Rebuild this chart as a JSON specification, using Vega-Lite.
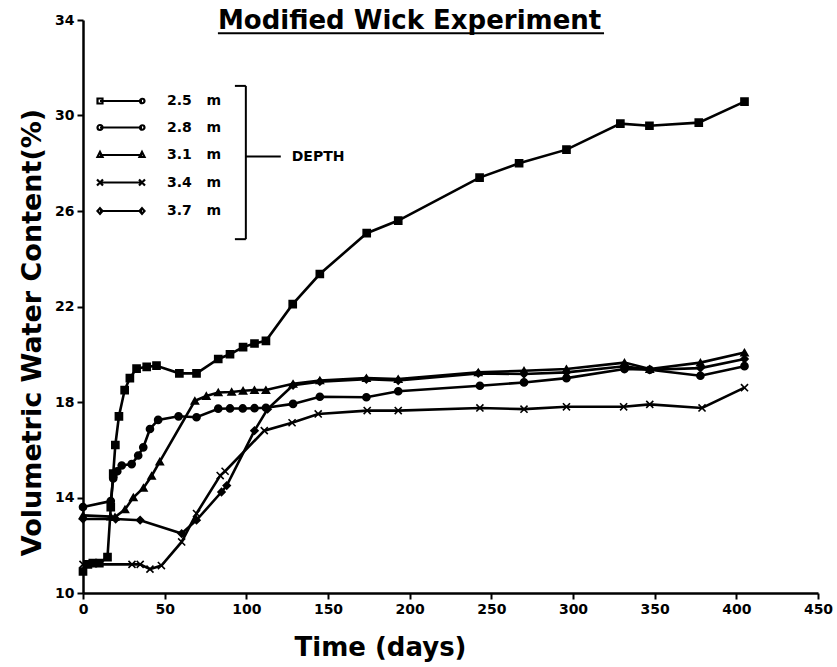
{
  "$schema": "https://vega.github.io/schema/vega-lite/v6.json",
  "width": 735,
  "height": 573,
  "autosize": {"type": "none"},
  "padding": {"left": 83, "top": 20, "right": 19, "bottom": 74},
  "background": "white",
  "config": {"view": {"stroke": null}, "font": "DejaVu Sans"},
  "data": {
    "values": [
      {"depth": "2.5 m", "day": 0, "wc": 10.9},
      {"depth": "2.5 m", "day": 3, "wc": 11.2},
      {"depth": "2.5 m", "day": 6, "wc": 11.25},
      {"depth": "2.5 m", "day": 10, "wc": 11.25},
      {"depth": "2.5 m", "day": 15, "wc": 11.5},
      {"depth": "2.5 m", "day": 17, "wc": 13.6},
      {"depth": "2.5 m", "day": 18.5, "wc": 15.0},
      {"depth": "2.5 m", "day": 19.8, "wc": 16.2},
      {"depth": "2.5 m", "day": 22, "wc": 17.4},
      {"depth": "2.5 m", "day": 25.5, "wc": 18.5},
      {"depth": "2.5 m", "day": 28.7, "wc": 19.0},
      {"depth": "2.5 m", "day": 32.8, "wc": 19.4},
      {"depth": "2.5 m", "day": 39, "wc": 19.47},
      {"depth": "2.5 m", "day": 45, "wc": 19.52},
      {"depth": "2.5 m", "day": 59, "wc": 19.2},
      {"depth": "2.5 m", "day": 69.5, "wc": 19.2},
      {"depth": "2.5 m", "day": 82.8, "wc": 19.8},
      {"depth": "2.5 m", "day": 90, "wc": 20.0},
      {"depth": "2.5 m", "day": 98, "wc": 20.3},
      {"depth": "2.5 m", "day": 105, "wc": 20.45},
      {"depth": "2.5 m", "day": 112, "wc": 20.56},
      {"depth": "2.5 m", "day": 128.4, "wc": 22.1},
      {"depth": "2.5 m", "day": 145, "wc": 23.36},
      {"depth": "2.5 m", "day": 173.7, "wc": 25.07},
      {"depth": "2.5 m", "day": 193, "wc": 25.6},
      {"depth": "2.5 m", "day": 242.8, "wc": 27.4},
      {"depth": "2.5 m", "day": 267, "wc": 28.0},
      {"depth": "2.5 m", "day": 296, "wc": 28.57},
      {"depth": "2.5 m", "day": 329, "wc": 29.66},
      {"depth": "2.5 m", "day": 346.8, "wc": 29.57},
      {"depth": "2.5 m", "day": 377, "wc": 29.7},
      {"depth": "2.5 m", "day": 405, "wc": 30.58},

      {"depth": "2.8 m", "day": 0, "wc": 13.6},
      {"depth": "2.8 m", "day": 17, "wc": 13.85},
      {"depth": "2.8 m", "day": 18.5, "wc": 14.8},
      {"depth": "2.8 m", "day": 21, "wc": 15.1},
      {"depth": "2.8 m", "day": 23.7, "wc": 15.34},
      {"depth": "2.8 m", "day": 29.8, "wc": 15.4},
      {"depth": "2.8 m", "day": 33.8, "wc": 15.76},
      {"depth": "2.8 m", "day": 36.9, "wc": 16.1},
      {"depth": "2.8 m", "day": 41, "wc": 16.87},
      {"depth": "2.8 m", "day": 46, "wc": 17.25},
      {"depth": "2.8 m", "day": 58.5, "wc": 17.4},
      {"depth": "2.8 m", "day": 69.5, "wc": 17.36},
      {"depth": "2.8 m", "day": 82.8, "wc": 17.72},
      {"depth": "2.8 m", "day": 90, "wc": 17.73},
      {"depth": "2.8 m", "day": 97.8, "wc": 17.73},
      {"depth": "2.8 m", "day": 105, "wc": 17.74},
      {"depth": "2.8 m", "day": 112, "wc": 17.76},
      {"depth": "2.8 m", "day": 128.6, "wc": 17.92},
      {"depth": "2.8 m", "day": 145, "wc": 18.22},
      {"depth": "2.8 m", "day": 173.5, "wc": 18.2},
      {"depth": "2.8 m", "day": 193, "wc": 18.45},
      {"depth": "2.8 m", "day": 243, "wc": 18.68},
      {"depth": "2.8 m", "day": 270, "wc": 18.82},
      {"depth": "2.8 m", "day": 296, "wc": 19.0},
      {"depth": "2.8 m", "day": 331.5, "wc": 19.38},
      {"depth": "2.8 m", "day": 347, "wc": 19.35},
      {"depth": "2.8 m", "day": 378, "wc": 19.1},
      {"depth": "2.8 m", "day": 405, "wc": 19.5},

      {"depth": "3.1 m", "day": 0, "wc": 13.25},
      {"depth": "3.1 m", "day": 17, "wc": 13.2},
      {"depth": "3.1 m", "day": 19.6, "wc": 13.18},
      {"depth": "3.1 m", "day": 25.7, "wc": 13.5},
      {"depth": "3.1 m", "day": 30.8, "wc": 14.0},
      {"depth": "3.1 m", "day": 37, "wc": 14.4},
      {"depth": "3.1 m", "day": 42, "wc": 14.9},
      {"depth": "3.1 m", "day": 47, "wc": 15.5},
      {"depth": "3.1 m", "day": 68.5, "wc": 18.05},
      {"depth": "3.1 m", "day": 75.5, "wc": 18.25},
      {"depth": "3.1 m", "day": 82.8, "wc": 18.4},
      {"depth": "3.1 m", "day": 91, "wc": 18.42},
      {"depth": "3.1 m", "day": 98, "wc": 18.47},
      {"depth": "3.1 m", "day": 105, "wc": 18.5},
      {"depth": "3.1 m", "day": 112, "wc": 18.5},
      {"depth": "3.1 m", "day": 128.6, "wc": 18.76},
      {"depth": "3.1 m", "day": 145, "wc": 18.9},
      {"depth": "3.1 m", "day": 173.5, "wc": 19.0},
      {"depth": "3.1 m", "day": 193, "wc": 18.96},
      {"depth": "3.1 m", "day": 242, "wc": 19.24},
      {"depth": "3.1 m", "day": 270, "wc": 19.31},
      {"depth": "3.1 m", "day": 296, "wc": 19.38},
      {"depth": "3.1 m", "day": 331.5, "wc": 19.65},
      {"depth": "3.1 m", "day": 347, "wc": 19.38},
      {"depth": "3.1 m", "day": 378, "wc": 19.65},
      {"depth": "3.1 m", "day": 405, "wc": 20.07},

      {"depth": "3.4 m", "day": 0, "wc": 11.2},
      {"depth": "3.4 m", "day": 30, "wc": 11.2},
      {"depth": "3.4 m", "day": 35, "wc": 11.2},
      {"depth": "3.4 m", "day": 41, "wc": 11.0},
      {"depth": "3.4 m", "day": 48, "wc": 11.15},
      {"depth": "3.4 m", "day": 60.4, "wc": 12.14},
      {"depth": "3.4 m", "day": 69.5, "wc": 13.33},
      {"depth": "3.4 m", "day": 84, "wc": 14.92},
      {"depth": "3.4 m", "day": 87, "wc": 15.1},
      {"depth": "3.4 m", "day": 111, "wc": 16.8},
      {"depth": "3.4 m", "day": 128, "wc": 17.13},
      {"depth": "3.4 m", "day": 144, "wc": 17.5},
      {"depth": "3.4 m", "day": 174, "wc": 17.64},
      {"depth": "3.4 m", "day": 193, "wc": 17.64},
      {"depth": "3.4 m", "day": 243, "wc": 17.75},
      {"depth": "3.4 m", "day": 270, "wc": 17.7},
      {"depth": "3.4 m", "day": 296, "wc": 17.8},
      {"depth": "3.4 m", "day": 331, "wc": 17.8},
      {"depth": "3.4 m", "day": 347, "wc": 17.9},
      {"depth": "3.4 m", "day": 379, "wc": 17.75},
      {"depth": "3.4 m", "day": 405, "wc": 18.6},

      {"depth": "3.7 m", "day": 0, "wc": 13.1},
      {"depth": "3.7 m", "day": 20, "wc": 13.1},
      {"depth": "3.7 m", "day": 35, "wc": 13.05},
      {"depth": "3.7 m", "day": 60.4, "wc": 12.49},
      {"depth": "3.7 m", "day": 69.5, "wc": 13.05},
      {"depth": "3.7 m", "day": 84.8, "wc": 14.23},
      {"depth": "3.7 m", "day": 88, "wc": 14.5},
      {"depth": "3.7 m", "day": 105, "wc": 16.8},
      {"depth": "3.7 m", "day": 113, "wc": 17.7},
      {"depth": "3.7 m", "day": 128.6, "wc": 18.7},
      {"depth": "3.7 m", "day": 145, "wc": 18.85},
      {"depth": "3.7 m", "day": 173.5, "wc": 18.95},
      {"depth": "3.7 m", "day": 193, "wc": 18.9},
      {"depth": "3.7 m", "day": 242, "wc": 19.2},
      {"depth": "3.7 m", "day": 270, "wc": 19.17},
      {"depth": "3.7 m", "day": 296, "wc": 19.24},
      {"depth": "3.7 m", "day": 331.5, "wc": 19.5},
      {"depth": "3.7 m", "day": 347, "wc": 19.35},
      {"depth": "3.7 m", "day": 378, "wc": 19.42},
      {"depth": "3.7 m", "day": 405, "wc": 19.8}
    ]
  },
  "layer": [
    {
      "mark": {"type": "line", "color": "black", "strokeWidth": 2.6},
      "encoding": {
        "x": {
          "field": "day",
          "type": "quantitative",
          "scale": {"domain": [0, 450], "nice": false, "zero": false},
          "axis": {
            "values": [0, 50, 100, 150, 200, 250, 300, 350, 400, 450],
            "title": "Time (days)",
            "titleFont": "DejaVu Sans",
            "titleFontSize": 26,
            "titleFontWeight": "bold",
            "titleColor": "black",
            "titleX": 297,
            "titleY": 54,
            "titleBaseline": "middle",
            "labelFont": "DejaVu Sans",
            "labelFontSize": 14,
            "labelFontWeight": "bold",
            "labelColor": "black",
            "labelFlush": false,
            "labelPadding": 3,
            "domainColor": "black",
            "domainWidth": 2.5,
            "tickColor": "black",
            "tickWidth": 2,
            "tickSize": 6,
            "grid": false
          }
        },
        "y": {
          "field": "wc",
          "type": "quantitative",
          "scale": {"domain": [10, 34], "nice": false, "zero": false},
          "axis": {
            "values": [10, 14, 18, 22, 26, 30, 34],
            "title": "Volumetric Water Content(%)",
            "titleFont": "DejaVu Sans",
            "titleFontSize": 27,
            "titleFontWeight": "bold",
            "titleColor": "black",
            "titleAngle": 270,
            "titleX": -51,
            "titleY": 312,
            "titleBaseline": "middle",
            "labelFont": "DejaVu Sans",
            "labelFontSize": 14,
            "labelFontWeight": "bold",
            "labelColor": "black",
            "labelPadding": 3,
            "domainColor": "black",
            "domainWidth": 2.5,
            "tickColor": "black",
            "tickWidth": 2,
            "tickSize": 6,
            "grid": false
          }
        },
        "detail": {"field": "depth", "type": "nominal"}
      }
    },
    {
      "mark": {"type": "point", "filled": true, "fill": "black", "stroke": "black", "strokeWidth": 1.6, "size": 50, "opacity": 1},
      "encoding": {
        "x": {"field": "day", "type": "quantitative"},
        "y": {"field": "wc", "type": "quantitative"},
        "shape": {
          "field": "depth",
          "type": "nominal",
          "scale": {
            "domain": ["2.5 m", "2.8 m", "3.1 m", "3.4 m", "3.7 m"],
            "range": ["square", "circle", "triangle-up", "M-1,-1L1,1M1,-1L-1,1", "diamond"]
          },
          "legend": null
        }
      }
    },
    {
      "mark": {"type": "point", "filled": false, "color": "black", "stroke": "black", "strokeWidth": 2, "opacity": 0},
      "encoding": {
        "x": {"field": "day", "type": "quantitative"},
        "y": {"field": "wc", "type": "quantitative"},
        "shape": {
          "field": "depth",
          "type": "nominal",
          "scale": {
            "domain": ["2.5 m", "2.8 m", "3.1 m", "3.4 m", "3.7 m"],
            "range": [
              "M-4.2,0H4.2M-4.7,-0.5H-3.7V0.5H-4.7ZM4.7,0A0.45,0.45,0,1,1,3.8,0A0.45,0.45,0,1,1,4.7,0Z",
              "M-3.7,0A0.5,0.5,0,1,1,-4.7,0A0.5,0.5,0,1,1,-3.7,0ZM-4.2,0H4.2M4.7,0A0.45,0.45,0,1,1,3.8,0A0.45,0.45,0,1,1,4.7,0Z",
              "M-4.2,0H4.2M-4.2,-0.6L-3.7,0.4H-4.7ZM4.2,-0.6L4.7,0.4H3.7Z",
              "M-4.2,0H4.2M-4.8,-0.6L-3.6,0.6M-4.8,0.6L-3.6,-0.6M3.6,-0.6L4.8,0.6M3.6,0.6L4.8,-0.6",
              "M-4.2,0H4.2M-4.2,-0.55L-3.7,0L-4.2,0.55L-4.7,0ZM4.2,-0.55L4.7,0L4.2,0.55L3.7,0Z"
            ]
          },
          "legend": {
            "orient": "none",
            "legendX": 31,
            "legendY": 74,
            "title": null,
            "padding": 0,
            "symbolSize": 100,
            "symbolStrokeColor": "black",
            "symbolStrokeWidth": 2.2,
            "symbolOpacity": 1,
            "labelFont": "DejaVu Sans",
            "labelFontSize": 14,
            "labelFontWeight": "bold",
            "labelColor": "black",
            "labelOffset": 39,
            "labelExpr": "replace(datum.label, ' ', '\u00a0\u00a0\u00a0')",
            "rowPadding": 12.5
          }
        }
      }
    },
    {
      "data": {"values": [{}]},
      "mark": {"type": "rule", "color": "black", "strokeWidth": 2},
      "encoding": {
        "x": {"datum": 99.7, "type": "quantitative"},
        "y": {"datum": 31.24, "type": "quantitative"},
        "y2": {"datum": 24.82}
      }
    },
    {
      "data": {"values": [{}]},
      "mark": {"type": "rule", "color": "black", "strokeWidth": 2},
      "encoding": {
        "x": {"datum": 93.0, "type": "quantitative"},
        "x2": {"datum": 99.7},
        "y": {"datum": 31.24, "type": "quantitative"}
      }
    },
    {
      "data": {"values": [{}]},
      "mark": {"type": "rule", "color": "black", "strokeWidth": 2},
      "encoding": {
        "x": {"datum": 93.0, "type": "quantitative"},
        "x2": {"datum": 99.7},
        "y": {"datum": 24.82, "type": "quantitative"}
      }
    },
    {
      "data": {"values": [{}]},
      "mark": {"type": "rule", "color": "black", "strokeWidth": 2},
      "encoding": {
        "x": {"datum": 99.7, "type": "quantitative"},
        "x2": {"datum": 121.1},
        "y": {"datum": 28.28, "type": "quantitative"}
      }
    },
    {
      "data": {"values": [{}]},
      "mark": {"type": "text", "align": "left", "baseline": "middle", "font": "DejaVu Sans", "fontSize": 14, "fontWeight": "bold", "color": "black"},
      "encoding": {
        "x": {"datum": 127.8, "type": "quantitative"},
        "y": {"datum": 28.28, "type": "quantitative"},
        "text": {"value": "DEPTH"}
      }
    },
    {
      "data": {"values": [{}]},
      "mark": {"type": "text", "align": "left", "baseline": "alphabetic", "font": "DejaVu Sans", "fontSize": 26, "fontWeight": "bold", "color": "black"},
      "encoding": {
        "x": {"datum": 82.6, "type": "quantitative"},
        "y": {"datum": 33.62, "type": "quantitative"},
        "text": {"value": "Modified Wick Experiment"}
      }
    },
    {
      "data": {"values": [{}]},
      "mark": {"type": "rule", "color": "black", "strokeWidth": 2},
      "encoding": {
        "x": {"datum": 82.6, "type": "quantitative"},
        "x2": {"datum": 319},
        "y": {"datum": 33.45, "type": "quantitative"}
      }
    }
  ],
  "resolve": {"scale": {"shape": "independent"}, "legend": {"shape": "independent"}}
}
